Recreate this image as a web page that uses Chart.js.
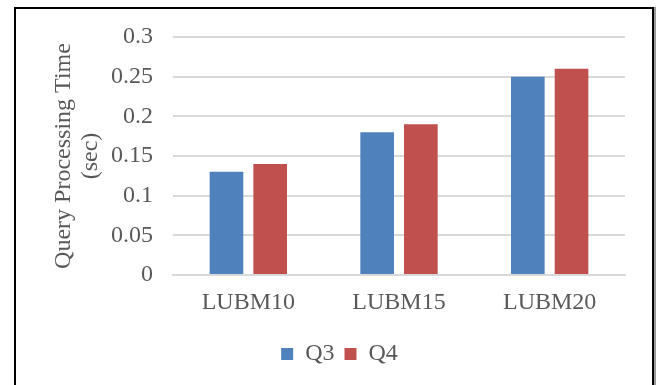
<!DOCTYPE html>
<html>
<head>
<meta charset="utf-8">
<script src="https://cdn.jsdelivr.net/npm/chart.js@4"></script>
<style>
  body { margin: 0; background: #fff; }
  .wrap { position: relative; width: 665px; height: 385px; overflow: hidden; }
  .frame {
    position: absolute; left: 14px; top: 7px; width: 636px; height: 400px;
    border: 2px solid #000; box-shadow: 2px 0 0 #999;
  }
  canvas { position: absolute; left: 0; top: 0; }
</style>
</head>
<body>
<div class="wrap">
  <div class="frame"></div>
  <canvas id="myChart" width="665" height="385"></canvas>
</div>
<script>
const categories = ['LUBM10', 'LUBM15', 'LUBM20'];
const q3Values = [0.13, 0.18, 0.25];
const q4Values = [0.14, 0.19, 0.26];
const yTicks = [0, 0.05, 0.1, 0.15, 0.2, 0.25, 0.3];

const textColor = '#595959';
const serif = 'Liberation Serif, Times New Roman, serif';

// legend sits a bit right of the plot centre in the original
const legendShift = {
    id: 'legendShift',
    afterLayout(chart) {
        chart.legend.left += 27;
        chart.legend.right += 27;
    }
};

const ctx = document.getElementById('myChart').getContext('2d');
const myChart = new Chart(ctx, {
    type: 'bar',
    data: {
        labels: categories,
        datasets: [{
            label: 'Q3',
            data: q3Values,
            backgroundColor: '#4F81BD',
            categoryPercentage: 0.58,
            barPercentage: 0.77
        }, {
            label: 'Q4',
            data: q4Values,
            backgroundColor: '#C0504D',
            categoryPercentage: 0.58,
            barPercentage: 0.77
        }]
    },
    plugins: [legendShift],
    options: {
        responsive: false,
        animation: false,
        layout: {
            padding: { top: 37, right: 40, bottom: 9, left: 0 }
        },
        plugins: {
            tooltip: { enabled: false },
            legend: {
                position: 'bottom',
                labels: {
                    color: textColor,
                    font: { family: serif, size: 24 },
                    boxWidth: 12,
                    boxHeight: 12,
                    padding: 10
                }
            }
        },
        scales: {
            x: {
                grid: { display: false },
                border: { color: '#d9d9d9', width: 2 },
                ticks: {
                    color: textColor,
                    font: { family: serif, size: 24 },
                    padding: 5
                },
                afterFit: (scale) => { scale.height = 57; }
            },
            y: {
                min: 0,
                max: 0.3,
                afterBuildTicks: (scale) => {
                    scale.ticks = yTicks.map(v => ({ value: v }));
                },
                grid: { color: '#d9d9d9', lineWidth: 2, drawTicks: false },
                border: { display: false },
                ticks: {
                    color: textColor,
                    font: { family: serif, size: 24 },
                    padding: 20,
                    callback: (v) => String(v)
                },
                title: {
                    display: true,
                    text: ['Query Processing Time', '(sec)'],
                    color: textColor,
                    font: { family: serif, size: 24, lineHeight: 1.13 },
                    padding: { top: 50, bottom: 0 }
                },
                afterFit: (scale) => { scale.width = 173; }
            }
        }
    }
});
</script>
</body>
</html>
